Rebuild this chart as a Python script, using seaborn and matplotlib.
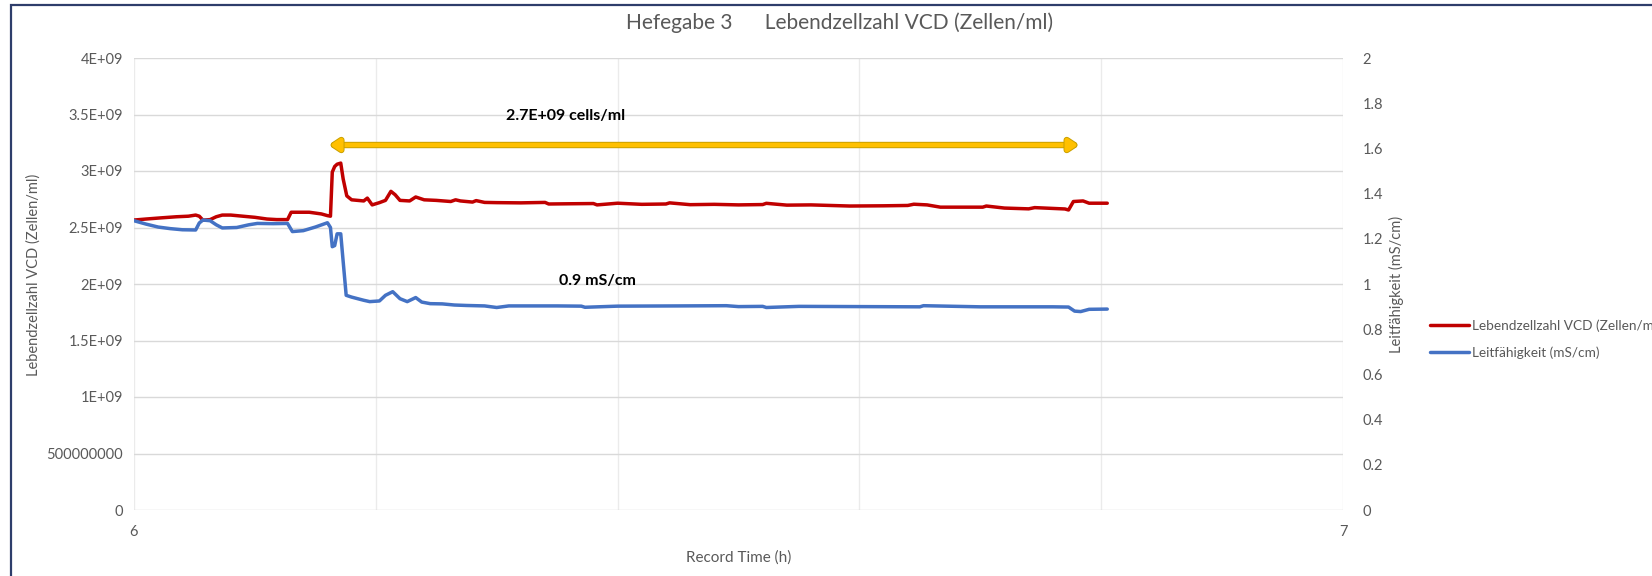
import numpy as np
import pandas as pd
import matplotlib
matplotlib.use("Agg")
import matplotlib.pyplot as plt
import matplotlib.patheffects as pe
from matplotlib.patches import Rectangle
from matplotlib.lines import Line2D
import seaborn as sns

# Lebendzellzahl VCD (Zellen/ml) (x 1e9)
t_vcd = [6.000, 6.010, 6.022, 6.035, 6.045, 6.051, 6.054, 6.057, 6.063, 6.068,
         6.073, 6.080, 6.090, 6.100, 6.110, 6.118, 6.127, 6.130, 6.145, 6.155,
         6.160, 6.1625, 6.164, 6.166, 6.168, 6.171, 6.173, 6.176, 6.180, 6.190,
         6.193, 6.197, 6.203, 6.208, 6.2125, 6.216, 6.220, 6.228, 6.233, 6.240,
         6.250, 6.262, 6.266, 6.270, 6.280, 6.283, 6.290, 6.300, 6.320, 6.340,
         6.343, 6.360, 6.380, 6.383, 6.400, 6.420, 6.440, 6.443, 6.460, 6.480,
         6.500, 6.520, 6.523, 6.540, 6.560, 6.592, 6.620, 6.640, 6.645, 6.656,
         6.667, 6.702, 6.705, 6.720, 6.740, 6.745, 6.770, 6.773, 6.777, 6.785,
         6.790, 6.805]
vcd = [2.566, 2.575, 2.585, 2.595, 2.600, 2.610, 2.600, 2.565, 2.570, 2.595,
       2.610, 2.610, 2.600, 2.590, 2.575, 2.570, 2.570, 2.635, 2.635, 2.620,
       2.605, 2.600, 2.990, 3.040, 3.060, 3.070, 2.930, 2.780, 2.745, 2.735,
       2.760, 2.700, 2.720, 2.740, 2.820, 2.790, 2.740, 2.735, 2.770, 2.745,
       2.740, 2.730, 2.745, 2.735, 2.725, 2.738, 2.722, 2.720, 2.718, 2.722,
       2.708, 2.710, 2.712, 2.700, 2.715, 2.705, 2.708, 2.718, 2.702, 2.705,
       2.700, 2.703, 2.714, 2.698, 2.700, 2.690, 2.692, 2.695, 2.706, 2.700,
       2.680, 2.680, 2.690, 2.672, 2.665, 2.676, 2.664, 2.655, 2.730, 2.735,
       2.715, 2.715]
vcd = [v * 1e9 for v in vcd]

# Leitfähigkeit (mS/cm)
t_cond = [6.000, 6.010, 6.020, 6.030, 6.040, 6.051, 6.054, 6.057, 6.063, 6.068,
          6.073, 6.085, 6.095, 6.102, 6.115, 6.127, 6.131, 6.140, 6.150, 6.160,
          6.1625, 6.164, 6.166, 6.168, 6.171, 6.173, 6.1755, 6.180, 6.185, 6.190,
          6.195, 6.203, 6.208, 6.214, 6.220, 6.226, 6.233, 6.238, 6.245, 6.255,
          6.265, 6.275, 6.290, 6.300, 6.310, 6.350, 6.370, 6.373, 6.400, 6.450,
          6.490, 6.500, 6.520, 6.523, 6.550, 6.600, 6.650, 6.653, 6.700, 6.760,
          6.773, 6.778, 6.783, 6.790, 6.805]
cond = [1.280, 1.265, 1.252, 1.245, 1.240, 1.239, 1.270, 1.283, 1.280, 1.262,
        1.248, 1.250, 1.262, 1.268, 1.267, 1.268, 1.232, 1.236, 1.252, 1.271,
        1.250, 1.165, 1.170, 1.222, 1.222, 1.100, 0.950, 0.942, 0.935, 0.928,
        0.922, 0.925, 0.950, 0.966, 0.935, 0.922, 0.940, 0.920, 0.913, 0.912,
        0.907, 0.905, 0.903, 0.896, 0.903, 0.903, 0.902, 0.897, 0.902, 0.903,
        0.904, 0.900, 0.901, 0.896, 0.901, 0.900, 0.899, 0.904, 0.899, 0.899,
        0.898, 0.880, 0.878, 0.888, 0.889]

left_ticks = [0, 0.5e9, 1e9, 1.5e9, 2e9, 2.5e9, 3e9, 3.5e9, 4e9]
left_labels = ['0', '500000000', '1E+09', '1.5E+09', '2E+09', '2.5E+09',
               '3E+09', '3.5E+09', '4E+09']
right_ticks = [0, 0.2, 0.4, 0.6, 0.8, 1, 1.2, 1.4, 1.6, 1.8, 2]
right_labels = ['0', '0.2', '0.4', '0.6', '0.8', '1', '1.2', '1.4', '1.6', '1.8', '2']

df_vcd = pd.DataFrame({'t': t_vcd, 'v': vcd})
df_cond = pd.DataFrame({'t': t_cond, 'v': cond})

sns.set_theme(style="white")
plt.rcParams['font.family'] = ['Lato', 'DejaVu Sans']
grey = '#595959'
red = '#C00000'
blue = '#4472C4'

W, H = 1652, 576
fig = plt.figure(figsize=(W / 100, H / 100), dpi=100)
ax = fig.add_axes([134 / W, 1 - 510 / H, (1343 - 134) / W, (510 - 58) / H])
ax2 = ax.twinx()

sns.lineplot(data=df_vcd, x='t', y='v', ax=ax, color=red, lw=2.5)
sns.lineplot(data=df_cond, x='t', y='v', ax=ax2, color=blue, lw=2.5)

ax.set_xlim(6, 7)
ax.set_ylim(0, 4e9)
ax2.set_ylim(0, 2)
ax.set_xticks([6, 7])
ax.set_xticklabels(['6', '7'])
ax.set_xticks([6.2, 6.4, 6.6, 6.8], minor=True)
ax.set_yticks(left_ticks)
ax.set_yticklabels(left_labels)
ax2.set_yticks(right_ticks)
ax2.set_yticklabels(right_labels)

ax.grid(True, axis='y', color='#D9D9D9', lw=1.0)
ax.grid(True, axis='x', which='both', color='#EBEBEB', lw=1.0)
for a in (ax, ax2):
    for s in a.spines.values():
        s.set_visible(False)
ax.tick_params(axis='both', which='both', length=0, colors=grey, labelsize=10.5)
ax.tick_params(axis='y', pad=8)
ax.tick_params(axis='x', pad=11)
ax2.tick_params(axis='y', length=0, colors=grey, labelsize=10.5, pad=14)

ax.set_xlabel('Record Time (h)', color=grey, fontsize=11, labelpad=8)
ax.set_ylabel('Lebendzellzahl VCD (Zellen/ml)', color=grey, fontsize=10.5, labelpad=1)
ax.yaxis.set_label_coords(-0.077, 0.52)
ax2.set_ylabel('Leitfähigkeit (mS/cm)', color=grey, fontsize=10.5, labelpad=4)

fig.text(840 / W, 1 - 23 / H, 'Hefegabe 3      Lebendzellzahl VCD (Zellen/ml)',
         ha='center', va='center', color=grey, fontsize=15)

# Pfeil und Beschriftungen
ax.annotate('', xy=(6.162, 3.23e9), xytext=(6.781, 3.23e9),
            arrowprops=dict(arrowstyle='<|-|>,head_length=0.45,head_width=0.3',
                            color='#FFC000', lw=3.2, shrinkA=0, shrinkB=0,
                            path_effects=[pe.withStroke(linewidth=4.6, foreground='#C9A000')]))
ax.text(6.357, 3.49e9, '2.7E+09 cells/ml', ha='center', va='center',
        fontsize=11.5, fontweight='bold', color='black')
ax.text(6.383, 2.03e9, '0.9 mS/cm', ha='center', va='center',
        fontsize=11.5, fontweight='bold', color='black')

handles = [Line2D([], [], color=red, lw=2.5), Line2D([], [], color=blue, lw=2.5)]
fig.legend(handles, ['Lebendzellzahl VCD (Zellen/ml)', 'Leitfähigkeit (mS/cm)'],
           loc='upper left', bbox_to_anchor=(1430 / W, 1 - 319 / H), frameon=False,
           fontsize=9.8, handlelength=2.9, handletextpad=0.15, labelspacing=1.1,
           borderaxespad=0, borderpad=0, labelcolor=grey)

fig.add_artist(Rectangle((11 / W, -0.1), 1.2, 1 - 5 / H + 0.1, transform=fig.transFigure,
                         fill=False, edgecolor='#2E3D6B', lw=1.6, clip_on=False))

fig.savefig('out.png', dpi=100)
